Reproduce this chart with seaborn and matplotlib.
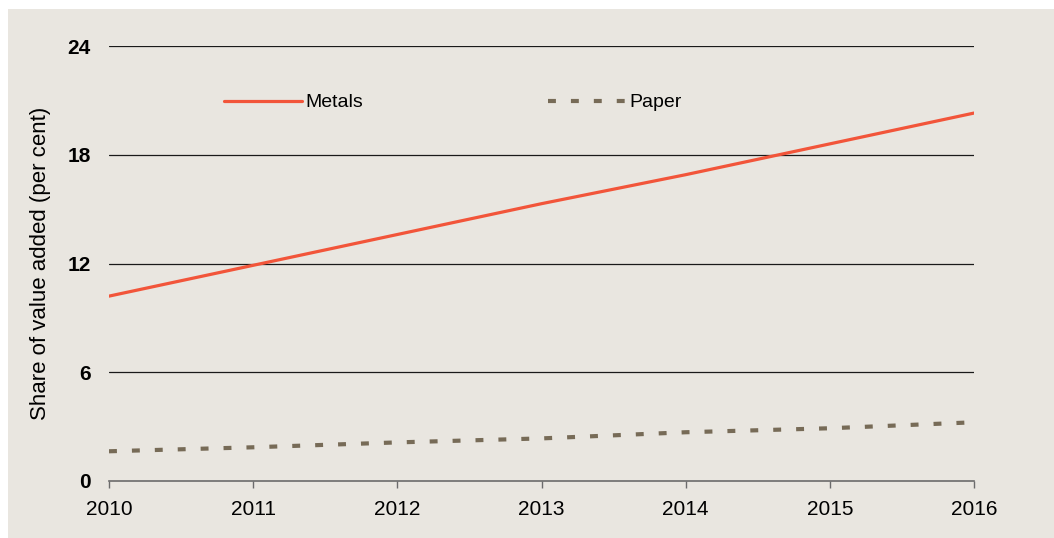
import matplotlib
matplotlib.use("Agg")
import matplotlib.pyplot as plt
import seaborn as sns
import pandas as pd
from matplotlib.patches import Rectangle

# Share of value added by industry (per cent)
years = [2010, 2011, 2012, 2013, 2014, 2015, 2016]
metals = [10.2, 11.9, 13.6, 15.3, 16.9, 18.6, 20.3]
paper = [1.64, 1.86, 2.13, 2.35, 2.69, 2.91, 3.24]
y_ticks = [0, 6, 12, 18, 24]

BG = "#E9E6E0"
METALS_C = "#F2553A"
PAPER_C = "#776B57"

sns.set_theme(style="white")
plt.rcParams["font.family"] = ["Liberation Sans", "DejaVu Sans"]

fig = plt.figure(figsize=(10.54, 5.38), dpi=100)
fig.patch.set_facecolor("white")
panel = Rectangle((8 / 1054, 0), 1 - 8 / 1054, 1 - 9 / 538,
                  transform=fig.transFigure, facecolor=BG,
                  edgecolor="none", zorder=-10)
fig.add_artist(panel)

ax = fig.add_axes([109 / 1054, 1 - 481 / 538, (974 - 109) / 1054, (481 - 46) / 538])
ax.set_zorder(5)
ax.set_facecolor("none")

df = pd.DataFrame({"year": years, "Metals": metals, "Paper": paper})

sns.lineplot(data=df, x="year", y="Metals", ax=ax, color=METALS_C,
             linewidth=2.3, label="Metals", solid_capstyle="round", zorder=3)
sns.lineplot(data=df, x="year", y="Paper", ax=ax, color=PAPER_C,
             linewidth=3.0, label="Paper", zorder=3)
ax.lines[1].set_dashes((1.9, 3.6))
ax.lines[1].set_dash_capstyle("butt")

ax.set_xlim(2010, 2016)
ax.set_ylim(0, 24)
ax.set_yticks(y_ticks)
ax.set_xticks(years)
ax.set_xticklabels([str(y) for y in years])
ax.set_yticklabels([str(v) for v in y_ticks], fontweight="bold")

for v in y_ticks[1:]:
    ax.axhline(v, color="#1a1a1a", linewidth=0.9, zorder=1)

for side in ["top", "right", "left"]:
    ax.spines[side].set_visible(False)
ax.spines["bottom"].set_color("#6b6b6b")
ax.spines["bottom"].set_linewidth(1.2)

ax.tick_params(axis="x", which="major", bottom=True, length=5, width=1.0,
               color="#6b6b6b", labelsize=15, pad=9, labelcolor="black")
ax.tick_params(axis="y", which="major", left=False, length=0,
               labelsize=15, pad=13, labelcolor="black")

ax.set_xlabel("")
ax.set_ylabel("Share of value added (per cent)", fontsize=16, labelpad=12,
              color="black")

leg = ax.legend(loc="upper left", bbox_to_anchor=(0.124, 0.908), ncol=2,
                frameon=False, fontsize=14, handlelength=4.0,
                handletextpad=0.2, columnspacing=9.5, borderaxespad=0)
for t in leg.get_texts():
    t.set_color("black")

fig.savefig("out.png", dpi=100, facecolor=fig.get_facecolor())
